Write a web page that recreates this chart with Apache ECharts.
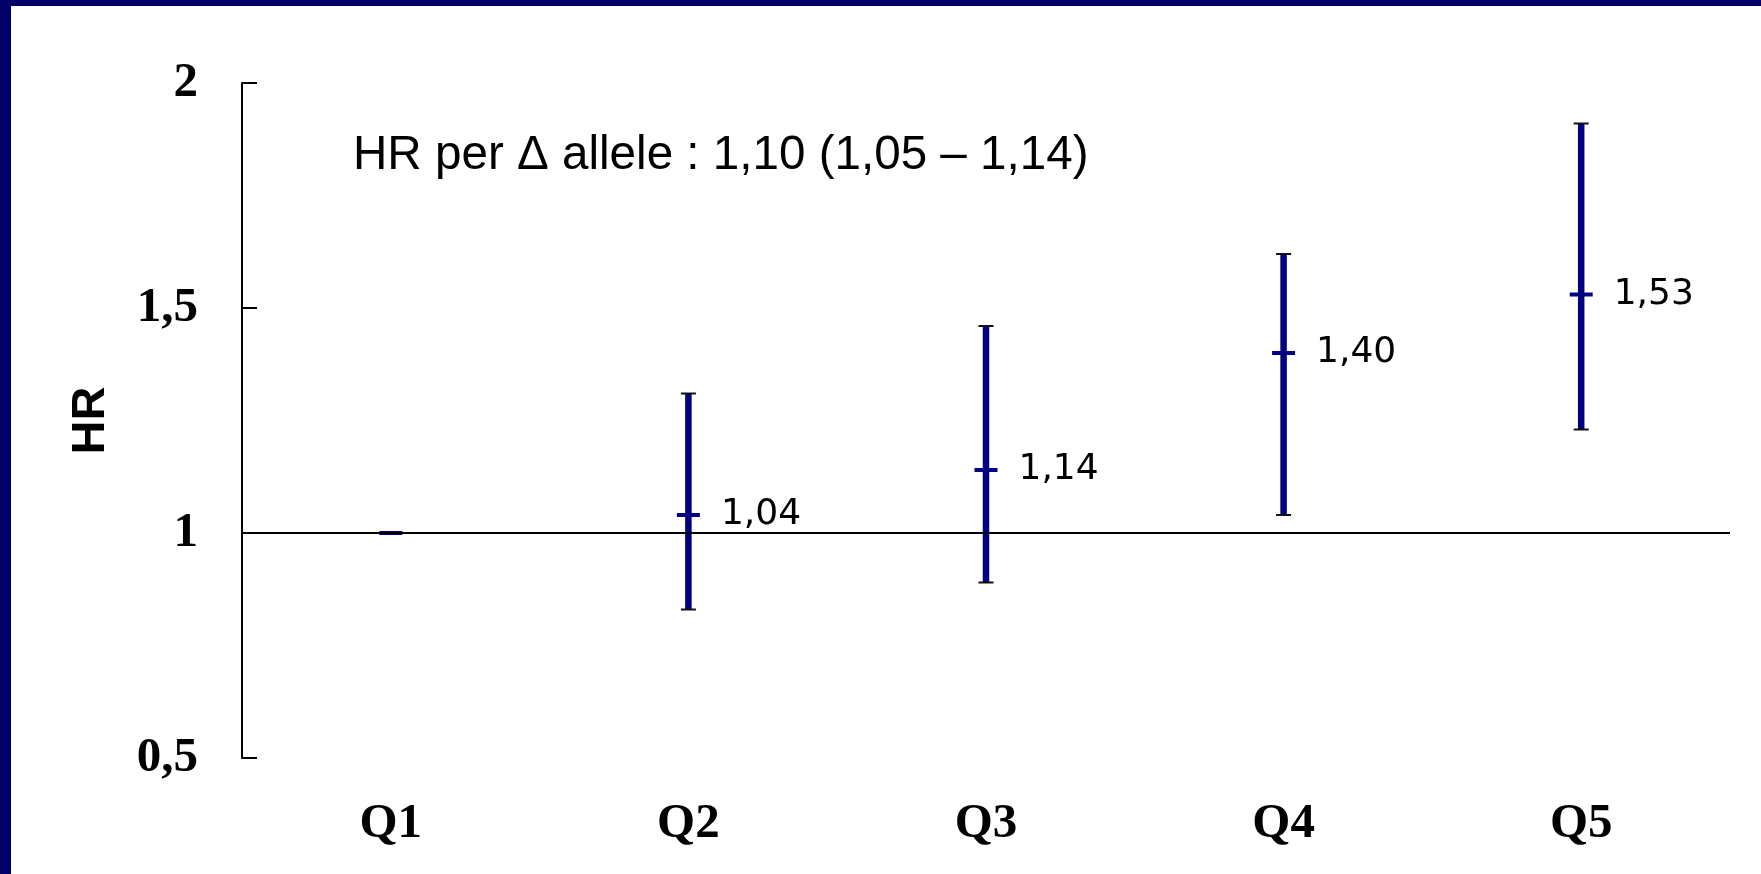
<!DOCTYPE html>
<html>
<head>
<meta charset="utf-8">
<title>HR by quintile</title>
<script src="https://cdn.jsdelivr.net/npm/echarts@6/dist/echarts.min.js"></script>
<style>
  html, body { margin: 0; padding: 0; background: #ffffff; }
  #chart { width: 1761px; height: 874px; }
</style>
</head>
<body>
<div id="chart"></div>
<script>
// Quintile categories and hazard ratios with their 95% confidence limits
const categories = ['Q1', 'Q2', 'Q3', 'Q4', 'Q5'];
const hr = [1.00, 1.04, 1.14, 1.40, 1.53];
const ciLow = [1.00, 0.83, 0.89, 1.04, 1.23];
const ciHigh = [1.00, 1.31, 1.46, 1.62, 1.91];
const labeled = [false, true, true, true, true];
const yTicks = [0.5, 1, 1.5, 2];
const annotation = 'HR per \u0394 allele : 1,10 (1,05 \u2013 1,14)';

const NAVY = '#000080';
const FRAME = '#000066';
const comma = v => v.toFixed(2).replace('.', ',');

const chart = echarts.init(document.getElementById('chart'), null, { renderer: 'canvas' });

const serifBold = { fontFamily: '"Liberation Serif", "Times New Roman", serif', fontWeight: 'bold', fontSize: 49, color: '#000' };

chart.setOption({
  animation: false,
  backgroundColor: '#ffffff',
  grid: { left: 242, right: 31, top: 83, bottom: 116, containLabel: false },
  xAxis: {
    type: 'category',
    data: categories,
    boundaryGap: true,
    axisLine: { show: false },
    axisTick: { show: false },
    axisLabel: Object.assign({ margin: 42 }, serifBold),
    splitLine: { show: false }
  },
  yAxis: {
    type: 'value',
    min: yTicks[0],
    max: yTicks[yTicks.length - 1],
    interval: yTicks[1] - yTicks[0],
    name: 'HR',
    nameLocation: 'middle',
    nameRotate: 90,
    nameGap: 127,
    nameTextStyle: { fontFamily: '"Liberation Sans", Arial, sans-serif', fontWeight: 'bold', fontSize: 47, color: '#000' },
    axisLine: { show: true, lineStyle: { color: '#000', width: 2 } },
    axisTick: { show: true, inside: true, length: 15, lineStyle: { color: '#000', width: 2 } },
    axisLabel: Object.assign({ margin: 44, formatter: v => String(v).replace('.', ',') }, serifBold),
    splitLine: { show: false }
  },
  graphic: [
    { type: 'rect', left: 0, top: 0, shape: { width: 1761, height: 6 }, style: { fill: FRAME }, z: 100 },
    { type: 'rect', left: 0, top: 0, shape: { width: 11, height: 874 }, style: { fill: FRAME }, z: 100 },
    {
      type: 'text', x: 353, y: 156, z: 50,
      style: {
        text: annotation,
        font: '47.6px "Liberation Sans", Arial, sans-serif',
        fill: '#000',
        textAlign: 'left',
        textVerticalAlign: 'middle'
      }
    }
  ],
  series: [
    {
      // reference line at HR = 1
      type: 'line',
      data: [],
      z: 1,
      markLine: {
        silent: true,
        symbol: 'none',
        label: { show: false },
        lineStyle: { color: '#000', width: 2, type: 'solid' },
        data: [{ yAxis: 1 }]
      }
    },
    {
      // confidence interval whiskers
      type: 'custom',
      z: 3,
      data: categories.map((c, i) => [i, ciLow[i], ciHigh[i]]),
      renderItem: function (params, api) {
        const lo = api.value(1), hi = api.value(2);
        if (lo === hi) return { type: 'group', children: [] };
        const top = api.coord([api.value(0), hi]);
        const bot = api.coord([api.value(0), lo]);
        const capHalf = 7.5;
        return {
          type: 'group',
          children: [
            { type: 'line', shape: { x1: top[0], y1: top[1], x2: bot[0], y2: bot[1] }, style: { stroke: NAVY, lineWidth: 6.5 } },
            { type: 'line', shape: { x1: top[0] - capHalf, y1: top[1], x2: top[0] + capHalf, y2: top[1] }, style: { stroke: '#111', lineWidth: 2 } },
            { type: 'line', shape: { x1: bot[0] - capHalf, y1: bot[1], x2: bot[0] + capHalf, y2: bot[1] }, style: { stroke: '#111', lineWidth: 2 } }
          ]
        };
      }
    },
    {
      // point estimates
      type: 'scatter',
      z: 4,
      symbol: 'rect',
      symbolSize: [23, 4],
      itemStyle: { color: NAVY, opacity: 1 },
      data: hr.map((v, i) => ({
        value: [i, v],
        label: { show: labeled[i] }
      })),
      label: {
        position: 'right',
        distance: 21,
        formatter: p => comma(p.value[1]),
        fontFamily: '"DejaVu Sans", Verdana, sans-serif',
        fontSize: 36,
        color: '#000'
      }
    }
  ]
});
</script>
</body>
</html>
